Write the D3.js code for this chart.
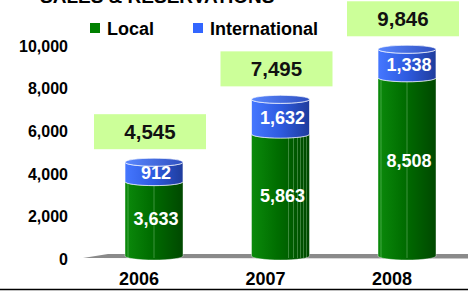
<!DOCTYPE html>
<html>
<head>
<meta charset="utf-8">
<script src="https://cdn.jsdelivr.net/npm/d3@7"></script>
<style>
  body { margin: 0; background: #fff; }
  svg { display: block; }
  text { font-family: "Liberation Sans", Arial, sans-serif; font-weight: bold; }
</style>
</head>
<body>
<script>
var years = ['2006', '2007', '2008'];
var local = [3633, 5863, 8508];
var international = [912, 1632, 1338];
var totals = [4545, 7495, 9846];
var ticks = [0, 2000, 4000, 6000, 8000, 10000];

var width = 468;
var height = 291;

var svg = d3.select('body').append('svg')
    .attr('width', width)
    .attr('height', height);

var y = d3.scaleLinear().domain([0, 10000]).range([259, 46]);
var x = d3.scalePoint().domain(years).range([154, 407]);

var barW = 58;
var ry = 4;
var fmt = d3.format(',');

// gradients
var defs = svg.append('defs');
var g1 = defs.append('linearGradient').attr('id', 'gGreen');
g1.append('stop').attr('offset', '0%').attr('stop-color', '#0b8a0b');
g1.append('stop').attr('offset', '45%').attr('stop-color', '#006d00');
g1.append('stop').attr('offset', '100%').attr('stop-color', '#004800');
var g2 = defs.append('linearGradient').attr('id', 'gBlue');
g2.append('stop').attr('offset', '0%').attr('stop-color', '#4577ff');
g2.append('stop').attr('offset', '50%').attr('stop-color', '#2e5be0');
g2.append('stop').attr('offset', '100%').attr('stop-color', '#1f3c9c');
var g3 = defs.append('linearGradient').attr('id', 'gCap');
g3.append('stop').attr('offset', '0%').attr('stop-color', '#5a88ff');
g3.append('stop').attr('offset', '100%').attr('stop-color', '#2f50c0');

// title, cut off at the top
svg.append('text')
    .attr('x', 40).attr('y', 3)
    .attr('font-size', 19)
    .text('SALES & RESERVATIONS');

// legend
svg.append('rect').attr('x', 90).attr('y', 23).attr('width', 10).attr('height', 10).attr('fill', '#008000');
svg.append('text').attr('x', 107).attr('y', 35).attr('font-size', 18).text('Local');
svg.append('rect').attr('x', 193).attr('y', 23).attr('width', 10).attr('height', 10).attr('fill', '#3366ff');
svg.append('text').attr('x', 210).attr('y', 35).attr('font-size', 18).text('International');

// y axis labels
svg.selectAll('.tick')
  .data(ticks)
  .enter().append('text')
    .attr('x', 68)
    .attr('y', function(d) { return y(d); })
    .attr('dy', '0.36em')
    .attr('text-anchor', 'end')
    .attr('font-size', 16)
    .text(function(d) { return fmt(d); });

// floor
svg.append('polygon')
    .attr('points', [[83, 258], [108, 254], [468, 254], [468, 258.5]].join(' '))
    .attr('fill', '#8a8a8a');

function side(x0, x1, yTop, yBot) {
  var rx = (x1 - x0) / 2;
  return 'M' + x0 + ',' + yTop +
    'L' + x0 + ',' + yBot +
    'A' + rx + ',' + ry + ' 0 0 0 ' + x1 + ',' + yBot +
    'L' + x1 + ',' + yTop +
    'A' + rx + ',' + ry + ' 0 0 1 ' + x0 + ',' + yTop + 'Z';
}

var bars = svg.selectAll('.bar')
  .data(years)
  .enter().append('g');

bars.each(function(d, i) {
  var g = d3.select(this);
  var cx = x(d);
  var x0 = cx - barW / 2, x1 = cx + barW / 2;
  var yl = y(local[i]), yt = y(totals[i]), yb = y(0) - 3;

  g.append('path')
      .attr('d', side(x0, x1, yl, yb))
      .attr('fill', 'url(#gGreen)')
      .attr('stroke', 'rgba(255,255,255,0.6)')
      .attr('stroke-width', 0.7);

  // light vertical streaks
  var streaks = i === 1 ? [8, 13, 17, 20, 23, 26] : [0, 10];
  streaks.forEach(function(s) {
    var sx = (i === 1 ? cx : cx) + (i === 1 ? s : (s === 0 ? 0 : -barW / 2 + 3));
    g.append('line')
        .attr('x1', sx).attr('x2', sx)
        .attr('y1', yt + 2).attr('y2', yb + 2)
        .attr('stroke', 'rgba(220,255,220,0.35)')
        .attr('stroke-width', 0.8);
  });

  g.append('path')
      .attr('d', side(x0, x1, yt, yl))
      .attr('fill', 'url(#gBlue)')
      .attr('stroke', 'rgba(255,255,255,0.8)')
      .attr('stroke-width', 0.8);

  g.append('ellipse')
      .attr('cx', cx).attr('cy', yt)
      .attr('rx', barW / 2).attr('ry', ry)
      .attr('fill', 'url(#gCap)')
      .attr('stroke', 'rgba(255,255,255,0.8)')
      .attr('stroke-width', 0.8);

  // segment labels
  g.append('text')
      .attr('x', cx + 2).attr('y', (yl + yb) / 2 - (i === 2 ? 6 : 0))
      .attr('dy', '0.36em')
      .attr('text-anchor', 'middle')
      .attr('font-size', 18)
      .attr('fill', '#fff')
      .text(fmt(local[i]));
  g.append('text')
      .attr('x', cx + 2).attr('y', (yt + yl) / 2 + 1)
      .attr('dy', '0.36em')
      .attr('text-anchor', 'middle')
      .attr('font-size', 18)
      .attr('fill', '#fff')
      .text(fmt(international[i]));

  // total box
  var bb = yt - 13;
  g.append('rect')
      .attr('x', cx - 60).attr('y', bb - 35)
      .attr('width', 112).attr('height', 35)
      .attr('fill', '#ccff99');
  g.append('text')
      .attr('x', cx - 4).attr('y', bb - 17.5)
      .attr('dy', '0.36em')
      .attr('text-anchor', 'middle')
      .attr('font-family', '"DejaVu Sans", Verdana, sans-serif')
      .attr('font-size', 20.5)
      .attr('fill', '#111')
      .text(fmt(totals[i]));

  // category label
  g.append('text')
      .attr('x', cx - 15).attr('y', 285)
      .attr('text-anchor', 'middle')
      .attr('font-size', 18)
      .text(d);
});

// bottom border
svg.append('line')
    .attr('x1', 0).attr('x2', width)
    .attr('y1', 289.5).attr('y2', 289.5)
    .attr('stroke', '#000')
    .attr('stroke-width', 1.5);
</script>
</body>
</html>
